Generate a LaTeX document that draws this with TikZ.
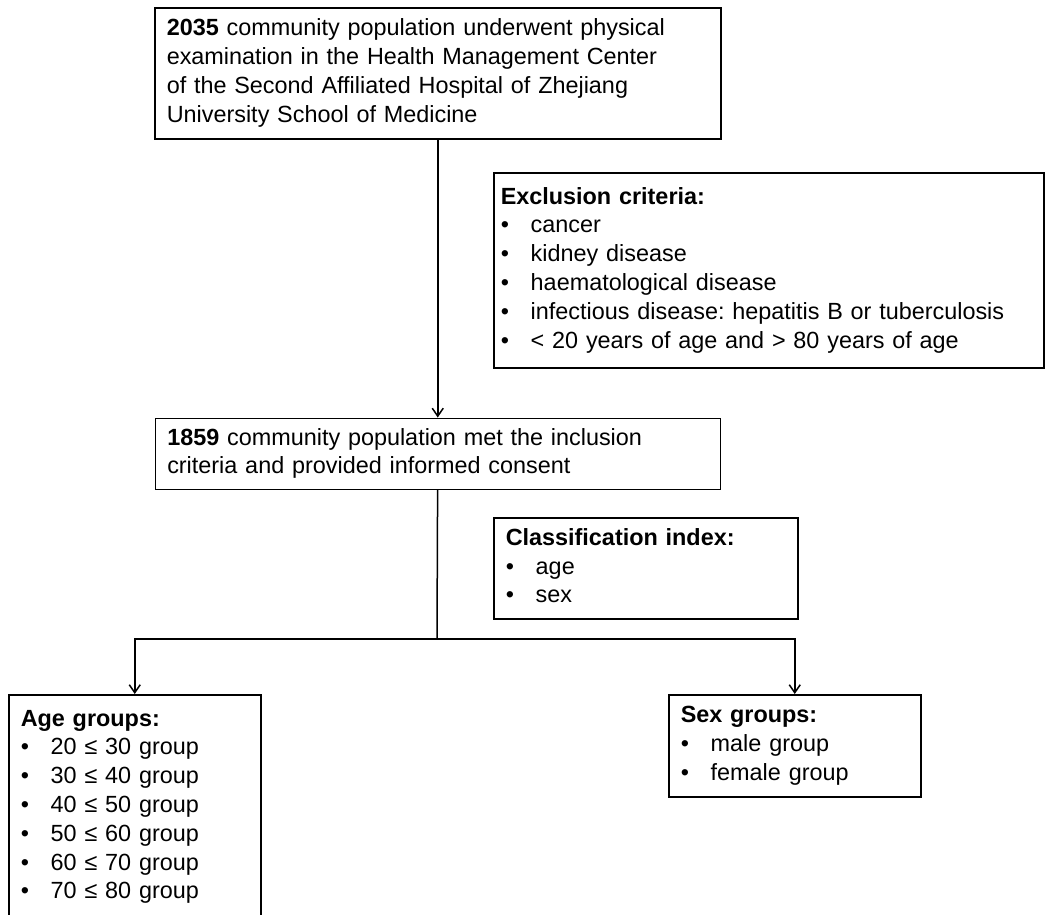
\documentclass[tikz,border=0pt]{standalone}
\usepackage{fontspec}
\setmainfont{Liberation Sans}
\usepackage{tikz}
\usetikzlibrary{arrows.meta,positioning}
\frenchspacing
\newcommand{\itm}[1]{\makebox[30pt][l]{\textbullet}#1}

\begin{document}
\begin{tikzpicture}[x=1pt, y=1pt,
          node distance=278pt,
          box/.style={draw, line width=1.5pt, align=left,
                      font=\fontsize{23.4}{28.8}\selectfont,
                      inner xsep=12pt, inner ysep=0pt},
          link/.style={line width=1.5pt},
          arr/.style={line width=1.5pt, -{Straight Barb[length=8pt,width=11pt]}}]
        \clip (0,0) rectangle (1050,-914);
        \node[box, anchor=north west, text width=542pt, minimum height=131pt]
          at (154,-7) (pop) {%
          \strut\textbf{2035} community population underwent physical\\
          examination in the Health Management Center\\
          of the Second Affiliated Hospital of Zhejiang\\
          University School of Medicine\strut};
        \node[box, below=of pop, text width=541pt, minimum height=71pt] (incl) {%
          \strut\textbf{1859} community population met the inclusion\\
          criteria and provided informed consent\strut};
        \node[box, anchor=north west, inner xsep=7pt, text width=536pt,
              minimum height=195pt] at (493,-172) (excl) {%
          \strut\textbf{Exclusion criteria:}\\
          \itm{cancer}\\
          \itm{kidney disease}\\
          \itm{haematological disease}\\
          \itm{infectious disease: hepatitis B or tuberculosis}\\
          \itm{< 20 years of age and > 80 years of age}\strut};
        \node[box, anchor=north west, text width=280pt, minimum height=101pt]
          at (493,-517) (classidx) {%
          \strut\textbf{Classification index:}\\
          \itm{age}\\
          \itm{sex}\strut};
        \coordinate (split) at (437,-639);
        \node[box, anchor=north west, text width=228pt, minimum height=224pt]
          at (8,-694) (agegrp) {%
          \strut\textbf{Age groups:}\\
          \itm{20 ≤ 30 group}\\
          \itm{30 ≤ 40 group}\\
          \itm{40 ≤ 50 group}\\
          \itm{50 ≤ 60 group}\\
          \itm{60 ≤ 70 group}\\
          \itm{70 ≤ 80 group}\strut};
        \node[box, anchor=north west, text width=228pt, minimum height=102pt]
          at (668,-694) (sexgrp) {%
          \strut\textbf{Sex groups:}\\
          \itm{male group}\\
          \itm{female group}\strut};
        \draw[arr] (pop) -- (incl);
        \draw[link] (incl) -- (split);
        \draw[arr] (split) -| (agegrp);
        \draw[arr] (split) -| (sexgrp);
      \end{tikzpicture}
\end{document}
